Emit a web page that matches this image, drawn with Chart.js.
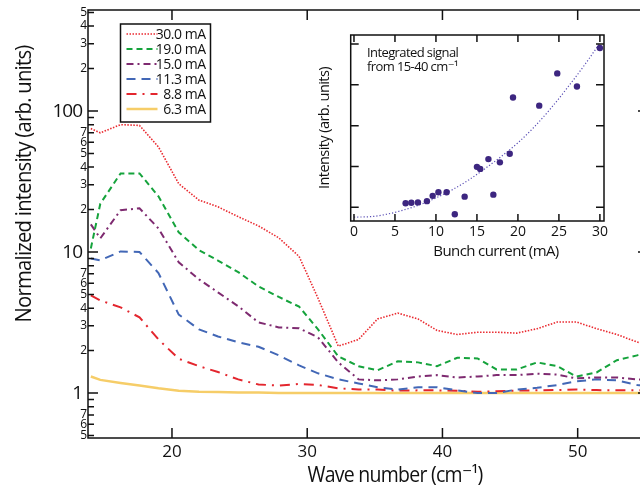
<!DOCTYPE html>
<html>
<head>
<meta charset="utf-8">
<script src="https://cdn.jsdelivr.net/npm/chart.js@4.4.0/dist/chart.umd.min.js"></script>
<style>
html,body{margin:0;padding:0;background:#fff}
#wrap{position:relative;width:640px;height:489px;overflow:hidden}
#main{position:absolute;left:0;top:0}
#inset{position:absolute;left:300px;top:25px}
</style>
</head>
<body>
<div id="wrap">
  <canvas id="main" width="660" height="489"></canvas>
  <canvas id="inset" width="320" height="245"></canvas>
</div>
<script>
Chart.defaults.font.family = "'Open Sans', 'DejaVu Sans', sans-serif";
Chart.defaults.color = '#111';

// spectra, normalized, one array per bunch current
const waveNumber = [14.0, 14.7, 16.2, 17.6, 19.0, 20.5, 22.0, 23.4, 24.9, 26.4, 27.9, 29.4, 30.8, 32.3, 33.8, 35.2, 36.7, 38.2, 39.6, 41.1, 42.6, 44.0, 45.5, 47.0, 48.5, 49.9, 51.4, 52.9, 54.4, 55.9];
const i30 = [75, 70, 80, 79, 55.6, 30.5, 23.3, 20.9, 17.8, 15.3, 12.6, 9.3, 4.7, 2.15, 2.4, 3.35, 3.69, 3.35, 2.78, 2.6, 2.7, 2.7, 2.66, 2.86, 3.19, 3.19, 2.86, 2.6, 2.3, 2.1];
const i19 = [10.6, 22, 36.1, 36.1, 24.8, 13.8, 10.3, 8.7, 7.2, 5.7, 4.8, 4.1, 2.83, 1.82, 1.55, 1.45, 1.68, 1.65, 1.55, 1.78, 1.76, 1.47, 1.47, 1.65, 1.55, 1.31, 1.40, 1.71, 1.85, 2.0];
const i15 = [15.7, 12.5, 19.8, 20.4, 14.7, 8.45, 6.4, 5.18, 4.12, 3.17, 2.92, 2.88, 2.48, 1.65, 1.25, 1.23, 1.25, 1.31, 1.34, 1.29, 1.31, 1.34, 1.34, 1.37, 1.35, 1.27, 1.29, 1.29, 1.25, 1.23];
const i11 = [9.0, 8.73, 10.1, 10.0, 7.1, 3.6, 2.83, 2.52, 2.29, 2.13, 1.85, 1.57, 1.38, 1.25, 1.17, 1.10, 1.06, 1.10, 1.10, 1.045, 1.0, 1.0, 1.06, 1.09, 1.14, 1.21, 1.25, 1.23, 1.14, 1.1];
const i8 = [4.93, 4.54, 4.05, 3.44, 2.40, 1.75, 1.55, 1.41, 1.25, 1.15, 1.13, 1.16, 1.14, 1.08, 1.06, 1.06, 1.04, 1.045, 1.045, 1.04, 1.02, 1.03, 1.04, 1.045, 1.05, 1.06, 1.05, 1.045, 1.045, 1.045];
const i6 = [1.31, 1.24, 1.18, 1.13, 1.08, 1.04, 1.02, 1.016, 1.01, 1.007, 1.0, 1.0, 1.0, 1.0, 1.0, 1.0, 1.0, 1.0, 1.0, 1.0, 1.0, 1.0, 1.0, 1.0, 1.0, 1.0, 1.0, 1.0, 1.0, 1.0];
const currentLabels = ['30.0 mA', '19.0 mA', '15.0 mA', '11.3 mA', '8.8 mA', '6.3 mA'];

const xTicks = [20, 30, 40, 50];
const yMajor = [1, 10, 100];
const yMinor = [0.5, 0.6, 0.7, 0.8, 0.9, 2, 3, 4, 5, 6, 7, 8, 9, 20, 30, 40, 50, 60, 70, 80, 90, 200, 300, 400, 500];

// integrated signal vs bunch current (inset)
const bunchCurrent = [6.3, 7.0, 7.8, 8.9, 9.6, 10.3, 11.3, 12.3, 13.5, 15.0, 15.4, 16.4, 17.0, 17.8, 19.0, 19.4, 22.6, 24.8, 27.2, 30.0];
const integrated = [1.10, 1.11, 1.12, 1.15, 1.28, 1.37, 1.37, 0.83, 1.26, 1.99, 1.94, 2.18, 1.31, 2.10, 2.31, 3.69, 3.49, 4.28, 3.96, 4.90];
const fitCurrent = [0, 2, 4, 6, 8, 10, 12, 14, 16, 18, 20, 22, 24, 26, 28, 30];
const fitSignal = [0.76, 0.77, 0.83, 0.93, 1.06, 1.23, 1.43, 1.67, 1.95, 2.25, 2.58, 2.97, 3.42, 3.92, 4.45, 5.02];
const insetXTicks = [0, 5, 10, 15, 20, 25, 30];
const insetYTicks = [1, 2, 3, 4, 5];

const series = [i30, i19, i15, i11, i8, i6];
const lineColors = ['#ea2a30', '#15a33c', '#7e2a70', '#4267b6', '#e3262e', '#f6cd68'];
const lineDashes = [[1.5, 1.5], [6, 4], [7, 4, 2, 4], [9, 6], [10, 6, 2, 6], []];
const lineWidths = [1.6, 2, 2, 2, 2, 2.5];

const FONT = "'Open Sans', 'DejaVu Sans', sans-serif";

function label(ctx, str, x, y, size, align, maxW, spacing) {
  ctx.font = size + 'px ' + FONT;
  ctx.textAlign = align;
  ctx.letterSpacing = (spacing || 0) + 'px';
  if (maxW) ctx.fillText(str, x, y, maxW); else ctx.fillText(str, x, y);
}

const mainFrame = {
  id: 'mainFrame',
  afterDatasetsDraw(chart) {
    const {ctx, chartArea: a, scales: {x, y}} = chart;
    ctx.save();
    ctx.setLineDash([]);
    ctx.strokeStyle = '#111';
    ctx.lineWidth = 1.5;
    ctx.strokeRect(a.left, a.top, a.right - a.left, a.bottom - a.top);

    // inward ticks on all sides
    ctx.beginPath();
    xTicks.forEach(v => {
      const px = x.getPixelForValue(v);
      ctx.moveTo(px, a.bottom); ctx.lineTo(px, a.bottom - 10);
      ctx.moveTo(px, a.top); ctx.lineTo(px, a.top + 10);
    });
    yMajor.concat(yMinor).forEach(v => {
      const py = y.getPixelForValue(v);
      const len = yMajor.includes(v) ? 10 : 6;
      ctx.moveTo(a.left, py); ctx.lineTo(a.left + len, py);
      ctx.moveTo(a.right, py); ctx.lineTo(a.right - len, py);
    });
    ctx.stroke();

    ctx.fillStyle = '#111';
    ctx.textBaseline = 'middle';
    yMajor.forEach(v => label(ctx, String(v), a.left - 6, y.getPixelForValue(v) + 1, 19, 'right', 0, -1));
    yMinor.forEach(v => {
      const d = Math.round(v / Math.pow(10, Math.floor(Math.log10(v) + 1e-9)));
      if (d >= 8) return;
      label(ctx, String(d), a.left - 1, y.getPixelForValue(v), 12, 'right', 0, 0);
    });

    // axis titles
    label(ctx, 'Wave number (cm\u207B\u00B9)', 395, 476, 21, 'center', 175, -0.8);
    ctx.save();
    ctx.translate(25, 184);
    ctx.rotate(-Math.PI / 2);
    label(ctx, 'Normalized intensity (arb. units)', 0, 0, 21, 'center', 277, -0.8);
    ctx.restore();

    // legend box
    const lx = 120.5, ly = 24, lw = 90, lh = 98;
    ctx.fillStyle = '#fff';
    ctx.fillRect(lx, ly, lw, lh);
    ctx.strokeStyle = '#111';
    ctx.lineWidth = 1.5;
    ctx.strokeRect(lx, ly, lw, lh);
    chart.data.datasets.forEach((ds, i) => {
      const ry = ly + 10 + i * 15;
      ctx.beginPath();
      ctx.strokeStyle = ds.borderColor;
      ctx.lineWidth = ds.borderWidth;
      ctx.setLineDash(ds.borderDash);
      ctx.moveTo(lx + 6, ry); ctx.lineTo(lx + 37, ry);
      ctx.stroke();
      ctx.setLineDash([]);
      ctx.fillStyle = '#111';
      label(ctx, ds.label, lx + lw - 5, ry + 1, 14, 'right', 0, -0.5);
    });
    ctx.restore();
  }
};

new Chart(document.getElementById('main'), {
  type: 'line',
  data: {
    datasets: series.map((vals, k) => ({
      label: currentLabels[k],
      data: waveNumber.map((w, i) => ({x: w, y: vals[i]})),
      borderColor: lineColors[k],
      borderDash: lineDashes[k],
      borderWidth: lineWidths[k],
      pointRadius: 0,
      fill: false,
      tension: 0
    }))
  },
  options: {
    responsive: false,
    animation: false,
    devicePixelRatio: 1,
    layout: {padding: {top: 10, right: 12, left: 0, bottom: 0}},
    plugins: {legend: {display: false}, tooltip: {enabled: false}},
    scales: {
      x: {
        type: 'linear', min: 13.79, max: 55.2,
        grid: {display: false, drawTicks: false}, border: {display: false},
        afterFit: s => { s.height = 51; },
        afterBuildTicks: s => { s.ticks = xTicks.map(v => ({value: v})); },
        ticks: {font: {size: 17}, color: '#111', padding: 4, maxRotation: 0}
      },
      y: {
        type: 'logarithmic', min: 0.48, max: 520,
        grid: {display: false, drawTicks: false}, border: {display: false},
        ticks: {display: false},
        afterFit: s => { s.width = 88; }
      }
    }
  },
  plugins: [mainFrame]
});

const insetFrame = {
  id: 'insetFrame',
  afterDatasetsDraw(chart) {
    const {ctx, chartArea: a, scales: {x, y}} = chart;
    ctx.save();
    ctx.setLineDash([]);
    ctx.strokeStyle = '#111';
    ctx.lineWidth = 1.5;
    ctx.strokeRect(a.left, a.top, a.right - a.left, a.bottom - a.top);
    ctx.beginPath();
    insetXTicks.forEach(v => {
      const px = x.getPixelForValue(v);
      ctx.moveTo(px, a.bottom); ctx.lineTo(px, a.bottom - 7);
      ctx.moveTo(px, a.top); ctx.lineTo(px, a.top + 7);
    });
    insetYTicks.forEach(v => {
      const py = y.getPixelForValue(v);
      ctx.moveTo(a.left, py); ctx.lineTo(a.left + 8, py);
      ctx.moveTo(a.right, py); ctx.lineTo(a.right - 8, py);
    });
    ctx.stroke();

    ctx.fillStyle = '#111';
    ctx.textBaseline = 'middle';
    label(ctx, 'Integrated signal', 67, 28, 13, 'left', 98, -0.6);
    label(ctx, 'from 15-40 cm\u207B\u00B9', 67, 42, 13, 'left', 99, -0.6);
    label(ctx, 'Bunch current (mA)', 196, 227, 15, 'center', 128, -0.6);
    ctx.save();
    ctx.translate(25, 103);
    ctx.rotate(-Math.PI / 2);
    label(ctx, 'Intensity (arb. units)', 0, 0, 15, 'center', 122, -0.6);
    ctx.restore();
    ctx.restore();
  }
};

new Chart(document.getElementById('inset'), {
  type: 'scatter',
  data: {
    datasets: [
      {
        data: bunchCurrent.map((c, i) => ({x: c, y: integrated[i]})),
        pointRadius: 3.2, pointBackgroundColor: '#3d2680', pointBorderWidth: 0, showLine: false
      },
      {
        data: fitCurrent.map((c, i) => ({x: c, y: fitSignal[i]})),
        showLine: true, pointRadius: 0, borderColor: '#5a4fb5', borderWidth: 1.2,
        borderDash: [1.2, 2], cubicInterpolationMode: 'monotone'
      }
    ]
  },
  options: {
    responsive: false,
    animation: false,
    devicePixelRatio: 1,
    layout: {padding: {top: 10, right: 16, left: 0, bottom: 0}},
    plugins: {legend: {display: false}, tooltip: {enabled: false}},
    scales: {
      x: {
        type: 'linear', min: -0.4, max: 30.5,
        grid: {display: false, drawTicks: false}, border: {display: false},
        afterFit: s => { s.height = 49; },
        afterBuildTicks: s => { s.ticks = insetXTicks.map(v => ({value: v})); },
        ticks: {font: {size: 14}, color: '#111', padding: 3, maxRotation: 0}
      },
      y: {
        type: 'linear', min: 0.664, max: 5.22,
        grid: {display: false, drawTicks: false}, border: {display: false},
        ticks: {display: false},
        afterFit: s => { s.width = 50.7; }
      }
    }
  },
  plugins: [insetFrame]
});
</script>
</body>
</html>
